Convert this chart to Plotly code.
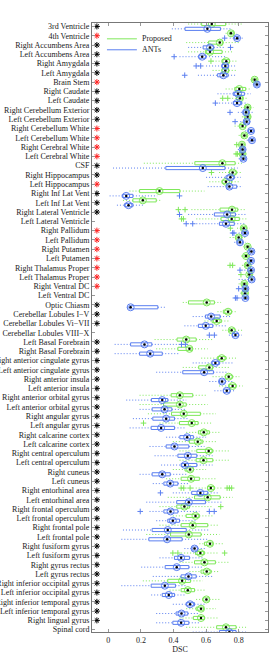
import plotly.graph_objects as go

labels = ["3rd Ventricle", "4th Ventricle", "Right Accumbens Area", "Left Accumbens Area",
          "Right Amygdala", "Left Amygdala", "Brain Stem", "Right Caudate", "Left Caudate",
          "Right Cerebellum Exterior", "Left Cerebellum Exterior", "Right Cerebellum White",
          "Left Cerebellum White", "Right Cerebral White", "Left Cerebral White", "CSF",
          "Right Hippocampus", "Left Hippocampus", "Right Inf Lat Vent", "Left Inf Lat Vent",
          "Right Lateral Ventricle", "Left Lateral Ventricle", "Right Pallidum", "Left Pallidum",
          "Right Putamen", "Left Putamen", "Right Thalamus Proper", "Left Thalamus Proper",
          "Right Ventral DC", "Left Ventral DC", "Optic Chiasm", "Cerebellar Lobules I\u2212V",
          "Cerebellar Lobules Vi\u2212VII", "Cerebellar Lobules VIII\u2212X", "Left Basal Forebrain",
          "Right Basal Forebrain", "Right anterior cingulate gyrus", "Left anterior cingulate gyrus",
          "Right anterior insula", "Left anterior insula", "Right anterior orbital gyrus",
          "Left anterior orbital gyrus", "Right angular gyrus", "Left angular gyrus",
          "Right calcarine cortex", "Left calcarine cortex", "Right central operculum",
          "Left central operculum", "Right cuneus", "Left cuneus", "Right entorhinal area",
          "Left entorhinal area", "Right frontal operculum", "Left frontal operculum",
          "Right frontal pole", "Left frontal pole", "Right fusiform gyrus", "Left fusiform gyrus",
          "Right gyrus rectus", "Left gyrus rectus", "Right inferior occipital gyrus",
          "Left inferior occipital gyrus", "Right inferior temporal gyrus",
          "Left inferior temporal gyrus", "Right lingual gyrus", "Spinal cord"]

# significance marker: 'k' black asterisk, 'r' red asterisk, '' none
significance = ['k', 'r', 'k', 'k', 'k', 'k', 'r', 'k', 'k', 'k', 'k', 'r', 'r', 'r', 'r', 'k',
                'k', 'r', 'k', 'k', 'k', '', 'r', 'r', 'r', 'r', 'r', 'r', 'r', '', 'k', 'k',
                'k', '', 'k', 'k'] + ['k'] * 29 + ['']

# Proposed: (q1, median, q3, lower whisker, upper whisker)
proposed_stats = [
    (0.573, 0.635, 0.72, 0.49, 0.82), (0.745, 0.753, 0.77, 0.72, 0.79),
    (0.616, 0.684, 0.702, 0.478, 0.80), (0.596, 0.624, 0.698, 0.49, 0.76),
    (0.698, 0.724, 0.743, 0.64, 0.79), (0.698, 0.718, 0.739, 0.64, 0.785),
    (0.886, 0.898, 0.91, 0.875, 0.92), (0.776, 0.804, 0.843, 0.72, 0.88),
    (0.788, 0.808, 0.824, 0.76, 0.85), (0.841, 0.855, 0.869, 0.815, 0.89),
    (0.841, 0.855, 0.869, 0.82, 0.885), (0.808, 0.824, 0.841, 0.775, 0.855),
    (0.82, 0.835, 0.847, 0.80, 0.86), (0.808, 0.82, 0.833, 0.79, 0.845),
    (0.812, 0.824, 0.837, 0.80, 0.85), (0.531, 0.70, 0.778, 0.218, 0.82),
    (0.743, 0.763, 0.788, 0.68, 0.82), (0.698, 0.722, 0.757, 0.62, 0.80),
    (0.192, 0.314, 0.439, 0.13, 0.59), (0.151, 0.212, 0.294, 0.09, 0.325),
    (0.686, 0.759, 0.794, 0.51, 0.845), (0.692, 0.757, 0.804, 0.54, 0.855),
    (0.818, 0.831, 0.845, 0.79, 0.865), (0.784, 0.80, 0.816, 0.745, 0.845),
    (0.845, 0.855, 0.865, 0.83, 0.875), (0.833, 0.845, 0.857, 0.815, 0.87),
    (0.841, 0.855, 0.865, 0.82, 0.88), (0.855, 0.865, 0.88, 0.835, 0.89),
    (0.822, 0.835, 0.847, 0.80, 0.865), (0.826, 0.839, 0.851, 0.81, 0.865),
    (0.492, 0.604, 0.651, 0.457, 0.692), (0.706, 0.735, 0.757, 0.67, 0.784),
    (0.637, 0.665, 0.694, 0.59, 0.743), (0.743, 0.757, 0.778, 0.70, 0.825),
    (0.422, 0.478, 0.539, 0.284, 0.64), (0.427, 0.498, 0.514, 0.294, 0.61),
    (0.671, 0.696, 0.722, 0.57, 0.794), (0.555, 0.62, 0.641, 0.457, 0.743),
    (0.718, 0.739, 0.763, 0.64, 0.804), (0.739, 0.763, 0.784, 0.68, 0.825),
    (0.386, 0.439, 0.518, 0.192, 0.61), (0.339, 0.439, 0.478, 0.192, 0.61),
    (0.388, 0.463, 0.565, 0.243, 0.66), (0.437, 0.512, 0.551, 0.314, 0.64),
    (0.553, 0.586, 0.62, 0.478, 0.692), (0.498, 0.549, 0.58, 0.396, 0.671),
    (0.543, 0.616, 0.641, 0.437, 0.743), (0.539, 0.584, 0.641, 0.437, 0.743),
    (0.471, 0.502, 0.522, 0.396, 0.60), (0.447, 0.508, 0.559, 0.355, 0.661),
    (0.61, 0.629, 0.651, 0.518, 0.70), (0.529, 0.61, 0.686, 0.365, 0.763),
    (0.42, 0.467, 0.498, 0.314, 0.64), (0.478, 0.535, 0.559, 0.396, 0.64),
    (0.447, 0.518, 0.61, 0.314, 0.682), (0.382, 0.494, 0.569, 0.233, 0.682),
    (0.59, 0.624, 0.641, 0.559, 0.702), (0.535, 0.565, 0.59, 0.447, 0.682),
    (0.529, 0.59, 0.657, 0.437, 0.743), (0.569, 0.604, 0.631, 0.498, 0.682),
    (0.365, 0.453, 0.504, 0.212, 0.579), (0.447, 0.488, 0.529, 0.376, 0.60),
    (0.58, 0.602, 0.62, 0.539, 0.682), (0.539, 0.569, 0.584, 0.478, 0.661),
    (0.522, 0.569, 0.59, 0.437, 0.682), (0.665, 0.722, 0.784, 0.478, 0.855),
]
proposed_outliers = {5: [0.63], 9: [0.702, 0.733], 14: [0.788], 15: [0.784, 0.792],
                     17: [0.633], 21: [0.43, 0.471], 22: [0.449, 0.461], 23: [0.749],
                     27: [0.747, 0.763], 28: [0.814], 44: [0.216],
                     51: [0.447, 0.463, 0.502, 0.729, 0.743, 0.757], 53: [0.69],
                     58: [0.396, 0.427, 0.714]}

# ANTs: (q1, median, q3, lower whisker, upper whisker)
ants_stats = [
    (0.471, 0.608, 0.688, 0.39, 0.76), (0.775, 0.79, 0.80, 0.745, 0.83),
    (0.582, 0.624, 0.647, 0.49, 0.72), (0.555, 0.576, 0.60, 0.437, 0.72),
    (0.698, 0.718, 0.735, 0.60, 0.78), (0.671, 0.706, 0.735, 0.55, 0.788),
    (0.90, 0.912, 0.925, 0.89, 0.935), (0.767, 0.796, 0.835, 0.67, 0.875),
    (0.767, 0.79, 0.818, 0.68, 0.855), (0.829, 0.845, 0.861, 0.795, 0.886),
    (0.835, 0.849, 0.865, 0.81, 0.88), (0.861, 0.876, 0.89, 0.84, 0.905),
    (0.869, 0.882, 0.894, 0.85, 0.91), (0.812, 0.824, 0.837, 0.795, 0.85),
    (0.816, 0.829, 0.841, 0.80, 0.855), (0.353, 0.58, 0.716, 0.029, 0.794),
    (0.722, 0.749, 0.773, 0.60, 0.814), (0.729, 0.743, 0.788, 0.61, 0.825),
    (0.086, 0.11, 0.151, 0.008, 0.30), (0.10, 0.124, 0.151, 0.053, 0.212),
    (0.651, 0.729, 0.78, 0.49, 0.845), (0.682, 0.722, 0.773, 0.54, 0.845),
    (0.827, 0.839, 0.851, 0.80, 0.865), (0.794, 0.808, 0.824, 0.773, 0.845),
    (0.867, 0.878, 0.89, 0.85, 0.90), (0.865, 0.876, 0.888, 0.85, 0.90),
    (0.863, 0.876, 0.888, 0.835, 0.90), (0.861, 0.88, 0.894, 0.80, 0.905),
    (0.829, 0.841, 0.853, 0.805, 0.865), (0.831, 0.841, 0.853, 0.81, 0.865),
    (0.127, 0.137, 0.304, 0.116, 0.355), (0.596, 0.631, 0.686, 0.518, 0.753),
    (0.553, 0.598, 0.641, 0.467, 0.722), (0.763, 0.78, 0.798, 0.74, 0.82),
    (0.137, 0.222, 0.267, 0.039, 0.43), (0.192, 0.257, 0.331, 0.039, 0.437),
    (0.635, 0.657, 0.682, 0.518, 0.763), (0.457, 0.588, 0.645, 0.294, 0.733),
    (0.682, 0.698, 0.718, 0.62, 0.763), (0.706, 0.727, 0.747, 0.651, 0.773),
    (0.265, 0.331, 0.365, 0.11, 0.478), (0.269, 0.345, 0.39, 0.192, 0.478),
    (0.273, 0.355, 0.406, 0.151, 0.498), (0.263, 0.324, 0.406, 0.131, 0.478),
    (0.439, 0.484, 0.522, 0.355, 0.60), (0.355, 0.406, 0.494, 0.253, 0.59),
    (0.427, 0.488, 0.543, 0.284, 0.64), (0.447, 0.471, 0.543, 0.324, 0.64),
    (0.269, 0.331, 0.38, 0.192, 0.478), (0.341, 0.38, 0.427, 0.273, 0.498),
    (0.512, 0.565, 0.61, 0.396, 0.682), (0.42, 0.494, 0.596, 0.233, 0.702),
    (0.341, 0.382, 0.427, 0.253, 0.559), (0.365, 0.396, 0.437, 0.294, 0.539),
    (0.269, 0.365, 0.478, 0.09, 0.62), (0.249, 0.361, 0.453, 0.08, 0.61),
    (0.514, 0.529, 0.549, 0.467, 0.60), (0.406, 0.447, 0.498, 0.314, 0.58),
    (0.349, 0.42, 0.494, 0.202, 0.58), (0.447, 0.492, 0.539, 0.273, 0.64),
    (0.263, 0.347, 0.412, 0.08, 0.478), (0.331, 0.371, 0.406, 0.263, 0.478),
    (0.478, 0.502, 0.529, 0.396, 0.60), (0.416, 0.449, 0.488, 0.294, 0.559),
    (0.396, 0.447, 0.494, 0.294, 0.559), (0.682, 0.743, 0.784, 0.518, 0.855),
]
ants_outliers = {2: [0.714], 3: [0.75], 4: [0.404], 5: [0.539, 0.567], 6: [0.469],
                 9: [0.657], 10: [0.747], 11: [0.778], 19: [0.437], 21: [0.437],
                 22: [0.478, 0.518], 23: [0.763, 0.771], 27: [0.808], 29: [0.80],
                 30: [0.78, 0.79], 34: [0.62, 0.651], 35: [0.449, 0.473], 51: [0.32],
                 53: [0.196, 0.62, 0.65]}

x_ticks = [0, 0.2, 0.4, 0.6, 0.8]
x_tick_text = ["0", "0.2", "0.4", "0.6", "0.8"]

GREEN = "#7fe85a"
BLUE = "#5b7ff0"
FONT = "Liberation Serif"

fig = go.Figure()
rows = list(range(1, len(labels) + 1))
HALF = 0.17


def add_group(stats, outliers, offset, color):
    bx, by, wx, wy = [], [], [], []
    for r, (q1, med, q3, lo, hi) in zip(rows, stats):
        yc = r + offset
        bx += [q1, q3, q3, q1, q1, None]
        by += [yc - HALF, yc - HALF, yc + HALF, yc + HALF, yc - HALF, None]
        wx += [lo, q1, None, q3, hi, None]
        wy += [yc, yc, None, yc, yc, None]
    fig.add_trace(go.Scatter(x=wx, y=wy, mode="lines", showlegend=False, hoverinfo="skip",
                             line=dict(color=color, width=1, dash="1px,2px")))
    fig.add_trace(go.Scatter(x=bx, y=by, mode="lines", showlegend=False, hoverinfo="skip",
                             line=dict(color=color, width=1)))
    ox, oy = [], []
    for r, vals in outliers.items():
        for v in vals:
            ox.append(v)
            oy.append(r + offset)
    fig.add_trace(go.Scatter(x=ox, y=oy, mode="markers", showlegend=False,
                             marker=dict(symbol="cross-thin-open", size=4, color=color,
                                         line=dict(color=color, width=1))))
    meds = [s[1] for s in stats]
    ys = [r + offset for r in rows]
    fig.add_trace(go.Scatter(x=meds, y=ys, mode="markers", showlegend=False,
                             marker=dict(symbol="circle-open", size=7, color=color,
                                         line=dict(color=color, width=1))))
    fig.add_trace(go.Scatter(x=meds, y=ys, mode="markers", showlegend=False,
                             marker=dict(symbol="circle", size=2.5, color="black")))


add_group(proposed_stats, proposed_outliers, -0.26, GREEN)
add_group(ants_stats, ants_outliers, 0.26, BLUE)

# significance asterisks
for col, name in [("k", "black"), ("r", "#ff2020")]:
    ys = [r for r, s in zip(rows, significance) if s == col]
    fig.add_trace(go.Scatter(x=[-0.07] * len(ys), y=ys, mode="markers", showlegend=False,
                             marker=dict(symbol="asterisk-open", size=5, color=name,
                                         line=dict(color=name, width=1))))

# legend drawn in Matlab style
for i, (txt, col) in enumerate([("Proposed", GREEN), ("ANTs", BLUE)]):
    yp = 0.974 - i * 0.018
    fig.add_shape(type="line", xref="paper", yref="paper", x0=0.085, x1=0.255, y0=yp, y1=yp,
                  line=dict(color=col, width=1))
    fig.add_annotation(xref="paper", yref="paper", x=0.27, y=yp, text=txt, showarrow=False,
                       xanchor="left", yanchor="middle", font=dict(family=FONT, size=8, color="#222"))

fig.update_layout(
    width=269, height=663,
    margin=dict(l=92, r=1, t=23, b=31),
    plot_bgcolor="white", paper_bgcolor="white",
    font=dict(family=FONT, size=8, color="#222"),
    xaxis=dict(range=[-0.1, 0.98], tickvals=x_ticks, ticktext=x_tick_text, automargin=False,
               ticks="inside", ticklen=3, tickcolor="#999", showgrid=False, zeroline=False,
               showline=True, linecolor="#777", linewidth=1, mirror="allticks",
               title=dict(text="DSC", font=dict(family=FONT, size=8), standoff=2),
               tickfont=dict(family=FONT, size=8)),
    yaxis=dict(range=[66.25, 0.63], tickvals=rows, ticktext=labels, automargin=False,
               ticks="inside", ticklen=3, tickcolor="#999", showgrid=False, zeroline=False,
               showline=True, linecolor="#777", linewidth=1, mirror="allticks",
               tickfont=dict(family=FONT, size=8)),
)

fig.write_html("out.html", config={"displayModeBar": False},
               post_script="document.body.style.margin='0px';")
